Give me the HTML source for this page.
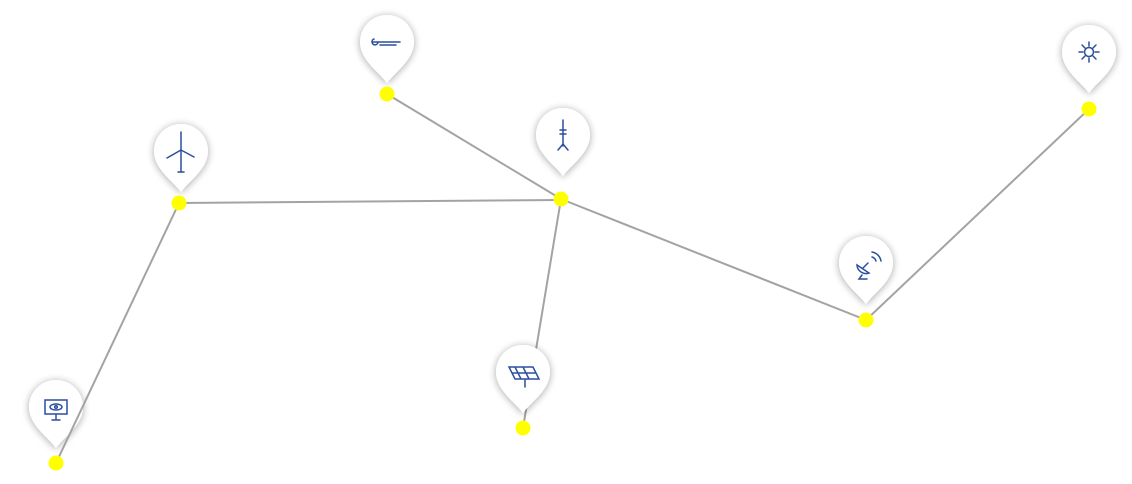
<!DOCTYPE html>
<html><head><meta charset="utf-8"><style>
html,body{margin:0;padding:0;background:#fff;width:1132px;height:484px;overflow:hidden}
</style></head><body>
<svg width="1132" height="484" viewBox="0 0 1132 484" xmlns="http://www.w3.org/2000/svg">
<defs>
<filter id="sh" x="-50%" y="-50%" width="200%" height="200%">
<feGaussianBlur in="SourceAlpha" stdDeviation="4"/>
<feOffset dx="0" dy="1"/>
<feComponentTransfer><feFuncA type="linear" slope="0.35"/></feComponentTransfer>
<feMerge><feMergeNode/><feMergeNode in="SourceGraphic"/></feMerge>
</filter>
<path id="pin" d="M0 41 C-8 30 -27 18 -27 0 A27 27 0 1 1 27 0 C27 18 8 30 0 41 Z" fill="#fff"/>
</defs>
<g stroke="#a3a3a3" stroke-width="2" fill="none">
<line x1="179" y1="203" x2="561" y2="200"/>
<line x1="387" y1="94" x2="561" y2="199"/>
<line x1="561" y1="199" x2="523" y2="428"/>
<line x1="561" y1="199" x2="866" y2="320"/>
<line x1="866" y1="320" x2="1089" y2="109"/>
</g>
<g filter="url(#sh)">
<use href="#pin" x="181" y="151"/>
<use href="#pin" x="56" y="407"/>
<use href="#pin" x="387" y="42"/>
<use href="#pin" x="563" y="135"/>
<use href="#pin" x="523" y="372"/>
<use href="#pin" x="866" y="263"/>
<use href="#pin" x="1089" y="52"/>
</g>
<line x1="179" y1="203" x2="56" y2="463" stroke="#a3a3a3" stroke-width="2"/>
<g stroke="#2c4f9e" stroke-width="1.5" fill="none" stroke-linecap="round">
<!-- wind turbine -->
<line x1="181" y1="150" x2="181" y2="172"/>
<line x1="178" y1="172" x2="184" y2="172"/>
<line x1="181" y1="150" x2="181" y2="132"/>
<line x1="181" y1="150" x2="167" y2="158"/>
<line x1="181" y1="150" x2="194" y2="157"/>
<!-- monitor -->
<rect x="45" y="400" width="22" height="14"/>
<line x1="56" y1="414" x2="56" y2="419"/><line x1="52" y1="420" x2="60" y2="420"/>
<ellipse cx="56" cy="407" rx="6" ry="3"/><circle cx="56" cy="407" r="1.3"/>
<!-- wind air -->
<path d="M373 42 H400 M380 45 H396 M378 42 a3 3 0 1 1 -4 -3"/>
<!-- tower -->
<line x1="563" y1="120" x2="563" y2="146"/>
<path d="M560 130 h6 M560 134 h6 M558 150 l5 -6 l5 6"/>
<!-- solar -->
<path d="M509 367 h24 l6 12 h-24 z M515 367 l6 12 M523 367 l6 12 M512 373 h24 M525 379 v8"/>
<!-- satellite -->
<path d="M857 265 a9 9 0 0 0 12 8 z M863 268 l5 -5 M872 257 a6 6 0 0 1 4 4 M872 252 a11 11 0 0 1 9 9 M862 275 l-3 4 h8"/>
<!-- sun -->
<circle cx="1089" cy="52" r="4.5"/>
<path d="M1089 42 v4 M1089 58 v4 M1079 52 h4 M1095 52 h4 M1082 45 l3 3 M1093 56 l3 3 M1096 45 l-3 3 M1085 56 l-3 3"/>
</g>
<g fill="#ffff00">
<circle cx="179" cy="203" r="7.5"/>
<circle cx="56" cy="463" r="7.5"/>
<circle cx="387" cy="94" r="7.5"/>
<circle cx="561" cy="199" r="7.5"/>
<circle cx="523" cy="428" r="7.5"/>
<circle cx="866" cy="320" r="7.5"/>
<circle cx="1089" cy="109" r="7.5"/>
</g>
</svg>
</body></html>
